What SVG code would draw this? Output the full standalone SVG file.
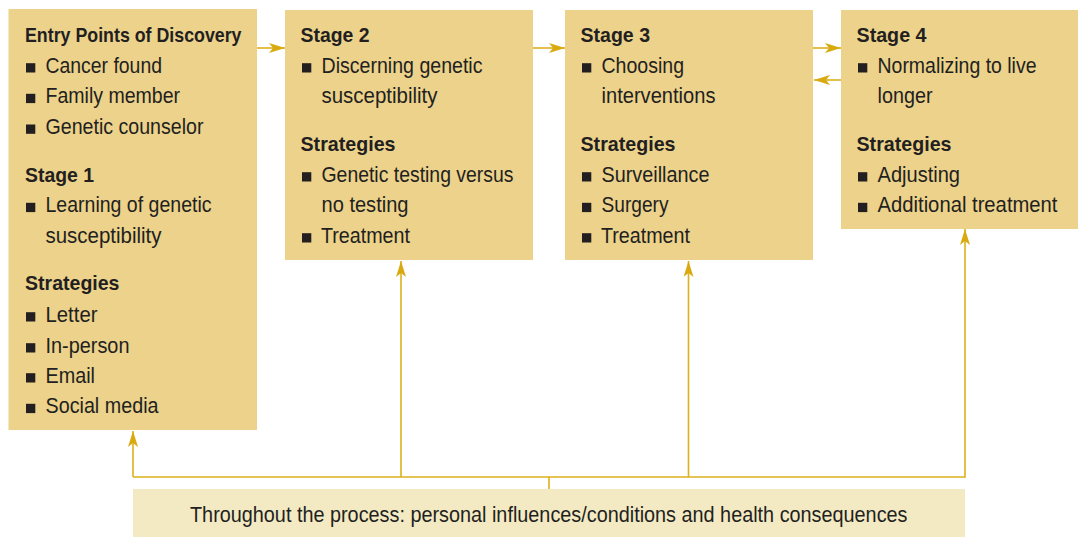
<svg xmlns="http://www.w3.org/2000/svg" width="1078" height="545" viewBox="0 0 1078 545">
<defs>
<style>
.box{fill:#ECD28B;}
.note{fill:#F3EAC4;}
.h{font-family:"Liberation Sans",Arial,sans-serif;font-weight:bold;font-size:20.5px;fill:#231F20;}
.t{font-family:"Liberation Sans",Arial,sans-serif;font-size:21.5px;fill:#231F20;}
.b{fill:#231F20;}
.c{fill:none;stroke:#DDB01E;stroke-width:1.6;}
</style>
<marker id="ah" viewBox="0 0 16 10" refX="16" refY="5" markerWidth="16" markerHeight="10" markerUnits="userSpaceOnUse" orient="auto">
<path d="M0,0 L16,5 L0,10 L4,5 z" fill="#D9AA10"/>
</marker>
</defs>
<rect width="1078" height="545" fill="#FFFFFF"/>

<g id="connectors">
<line class="c" x1="257" y1="48" x2="285" y2="48" marker-end="url(#ah)"/>
<line class="c" x1="533" y1="48" x2="565" y2="48" marker-end="url(#ah)"/>
<line class="c" x1="813" y1="48" x2="841" y2="48" marker-end="url(#ah)"/>
<line class="c" x1="841" y1="80" x2="814" y2="80" marker-end="url(#ah)"/>
<polyline class="c" points="133,477 965,477"/>
<line class="c" x1="133" y1="477" x2="133" y2="431" marker-end="url(#ah)"/>
<line class="c" x1="401" y1="477" x2="401" y2="261" marker-end="url(#ah)"/>
<line class="c" x1="688.5" y1="477" x2="688.5" y2="261" marker-end="url(#ah)"/>
<line class="c" x1="965" y1="477.8" x2="965" y2="229" marker-end="url(#ah)"/>
<line class="c" x1="549" y1="477" x2="549" y2="489"/>
</g>

<g id="node-entry">
<rect class="box" x="8.5" y="9" width="248.5" height="421"/>
<text class="h" x="25" y="41.7" textLength="216.5" lengthAdjust="spacingAndGlyphs">Entry Points of Discovery</text>
<rect class="b" x="26" y="63.2" width="9.3" height="9.3"/>
<text class="t" x="45.5" y="72.7" textLength="116.5" lengthAdjust="spacingAndGlyphs">Cancer found</text>
<rect class="b" x="26" y="93.8" width="9.3" height="9.3"/>
<text class="t" x="45.5" y="103.3" textLength="134.5" lengthAdjust="spacingAndGlyphs">Family member</text>
<rect class="b" x="26" y="124.5" width="9.3" height="9.3"/>
<text class="t" x="45.5" y="134" textLength="158" lengthAdjust="spacingAndGlyphs">Genetic counselor</text>
<text class="h" x="25" y="181.7" textLength="69" lengthAdjust="spacingAndGlyphs">Stage 1</text>
<rect class="b" x="26" y="202.8" width="9.3" height="9.3"/>
<text class="t" x="45.5" y="212.3" textLength="166" lengthAdjust="spacingAndGlyphs">Learning of genetic</text>
<text class="t" x="45.5" y="242.7" textLength="116" lengthAdjust="spacingAndGlyphs">susceptibility</text>
<text class="h" x="25" y="290.3" textLength="94.5" lengthAdjust="spacingAndGlyphs">Strategies</text>
<rect class="b" x="26" y="312.2" width="9.3" height="9.3"/>
<text class="t" x="45.5" y="321.7" textLength="52" lengthAdjust="spacingAndGlyphs">Letter</text>
<rect class="b" x="26" y="343.2" width="9.3" height="9.3"/>
<text class="t" x="45.5" y="352.7" textLength="84" lengthAdjust="spacingAndGlyphs">In-person</text>
<rect class="b" x="26" y="373.2" width="9.3" height="9.3"/>
<text class="t" x="45.5" y="382.7" textLength="49.5" lengthAdjust="spacingAndGlyphs">Email</text>
<rect class="b" x="26" y="403.8" width="9.3" height="9.3"/>
<text class="t" x="45.5" y="413.3" textLength="113" lengthAdjust="spacingAndGlyphs">Social media</text>
</g>

<g id="node-stage2">
<rect class="box" x="285" y="10" width="248" height="250"/>
<text class="h" x="300.5" y="41.7" textLength="69" lengthAdjust="spacingAndGlyphs">Stage 2</text>
<rect class="b" x="302" y="63.2" width="9.3" height="9.3"/>
<text class="t" x="321.5" y="72.7" textLength="161" lengthAdjust="spacingAndGlyphs">Discerning genetic</text>
<text class="t" x="321.5" y="102.7" textLength="116" lengthAdjust="spacingAndGlyphs">susceptibility</text>
<text class="h" x="300.5" y="150.7" textLength="95" lengthAdjust="spacingAndGlyphs">Strategies</text>
<rect class="b" x="302" y="172.2" width="9.3" height="9.3"/>
<text class="t" x="321.5" y="181.7" textLength="192" lengthAdjust="spacingAndGlyphs">Genetic testing versus</text>
<text class="t" x="321.5" y="212.3" textLength="87" lengthAdjust="spacingAndGlyphs">no testing</text>
<rect class="b" x="302" y="233.2" width="9.3" height="9.3"/>
<text class="t" x="321" y="242.7" textLength="89" lengthAdjust="spacingAndGlyphs">Treatment</text>
</g>

<g id="node-stage3">
<rect class="box" x="565" y="10" width="248" height="250"/>
<text class="h" x="580.5" y="41.7" textLength="69.5" lengthAdjust="spacingAndGlyphs">Stage 3</text>
<rect class="b" x="582" y="63.2" width="9.3" height="9.3"/>
<text class="t" x="601.5" y="72.7" textLength="82.5" lengthAdjust="spacingAndGlyphs">Choosing</text>
<text class="t" x="601.5" y="102.7" textLength="114" lengthAdjust="spacingAndGlyphs">interventions</text>
<text class="h" x="580.5" y="150.7" textLength="95" lengthAdjust="spacingAndGlyphs">Strategies</text>
<rect class="b" x="582" y="172.2" width="9.3" height="9.3"/>
<text class="t" x="601.5" y="181.7" textLength="108" lengthAdjust="spacingAndGlyphs">Surveillance</text>
<rect class="b" x="582" y="202.8" width="9.3" height="9.3"/>
<text class="t" x="601.5" y="212.3" textLength="67" lengthAdjust="spacingAndGlyphs">Surgery</text>
<rect class="b" x="582" y="233.2" width="9.3" height="9.3"/>
<text class="t" x="601" y="242.7" textLength="89" lengthAdjust="spacingAndGlyphs">Treatment</text>
</g>

<g id="node-stage4">
<rect class="box" x="841" y="10" width="237" height="219"/>
<text class="h" x="856.5" y="41.7" textLength="70" lengthAdjust="spacingAndGlyphs">Stage 4</text>
<rect class="b" x="858" y="63.2" width="9.3" height="9.3"/>
<text class="t" x="877.5" y="72.7" textLength="159" lengthAdjust="spacingAndGlyphs">Normalizing to live</text>
<text class="t" x="877.5" y="102.7" textLength="55" lengthAdjust="spacingAndGlyphs">longer</text>
<text class="h" x="856.5" y="150.7" textLength="95" lengthAdjust="spacingAndGlyphs">Strategies</text>
<rect class="b" x="858" y="172.2" width="9.3" height="9.3"/>
<text class="t" x="877.5" y="181.7" textLength="82.5" lengthAdjust="spacingAndGlyphs">Adjusting</text>
<rect class="b" x="858" y="202.8" width="9.3" height="9.3"/>
<text class="t" x="877.5" y="212.3" textLength="180" lengthAdjust="spacingAndGlyphs">Additional treatment</text>
</g>

<g id="node-process">
<rect class="note" x="133" y="489" width="832" height="48"/>
<text class="t" x="190" y="522" textLength="717.5" lengthAdjust="spacingAndGlyphs">Throughout the process: personal influences/conditions and health consequences</text>
</g>
</svg>
